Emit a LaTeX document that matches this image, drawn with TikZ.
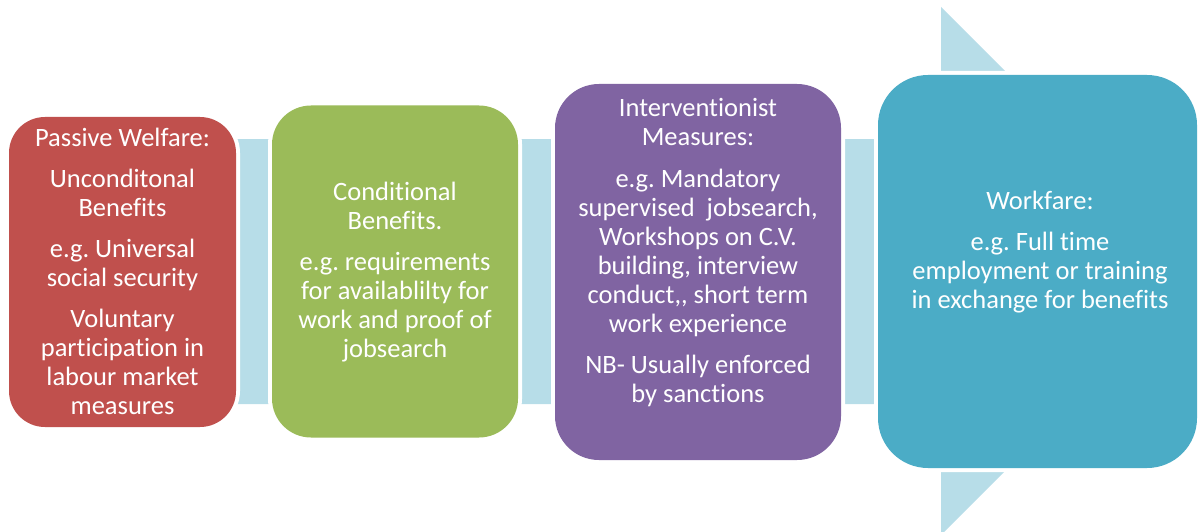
\documentclass[tikz,border=0pt]{standalone}
\usepackage{fontspec}
\setmainfont{Carlito}[Ligatures={TeX,NoCommon}]
\frenchspacing
\usetikzlibrary{positioning}
\definecolor{passivered}{HTML}{C0504D}
\definecolor{condgreen}{HTML}{9BBB59}
\definecolor{intervpurple}{HTML}{8064A2}
\definecolor{workteal}{HTML}{4BACC6}
\definecolor{bandblue}{HTML}{B7DDE8}
\tikzset{
  stage/.style={rectangle, inner sep=0pt, fill=#1, preaction={draw=white, line width=8pt}},
  stage text/.style={text=white, align=center, inner sep=0pt, font=\fontsize{26.5}{29}\selectfont}
}

\begin{document}
\begin{tikzpicture}[x=1pt, y=-1pt]
  \useasboundingbox (0,0) rectangle (1198,532);
  \clip (0,0) rectangle (1198,532);

  % backdrop arrow
  \fill [bandblue] (200,139) -- (941,139) -- (941,7) -- (1205,271) -- (941,535) -- (941,404) -- (200,404) -- cycle;

  \node [stage=passivered, rounded corners=36pt, minimum width=227pt, minimum height=310pt] (passive) at (122.5,272) {};
  \node [stage=condgreen, rounded corners=39pt, minimum width=246pt, minimum height=332pt] (cond) at (395,271.5) {};
  \node [stage=intervpurple, rounded corners=44pt, minimum width=286pt, minimum height=376pt] (interv) at (698,272) {};
  \node [stage=workteal, rounded corners=50pt, minimum width=319pt, minimum height=393pt] (work) at (1037.5,271.5) {};

  \node [stage text] (passive text) at (122.5,271) {Passive Welfare:\\[12pt]Unconditonal\\Benefits\\[12pt]e.g. Universal\\social security\\[12pt]Voluntary\\participation in\\labour market\\measures};
  \node [stage text] (cond text) at (395,272) {Conditional\\Benefits.\\[12pt]e.g. requirements\\for availablilty for\\work and proof of\\jobsearch};
  \node [stage text] (interv text) at (698,252.5) {Interventionist\\Measures:\\[13pt]e.g. Mandatory\\supervised\ \ jobsearch,\\Workshops on C.V.\\building, interview\\conduct,{}, short term\\work experience\\[12pt]NB- Usually enforced\\by sanctions};
  \node [stage text] (work text) at (1040,252.5) {Workfare:\\[12pt]e.g. Full time\\employment or training\\in exchange for benefits};
\end{tikzpicture}
\end{document}
